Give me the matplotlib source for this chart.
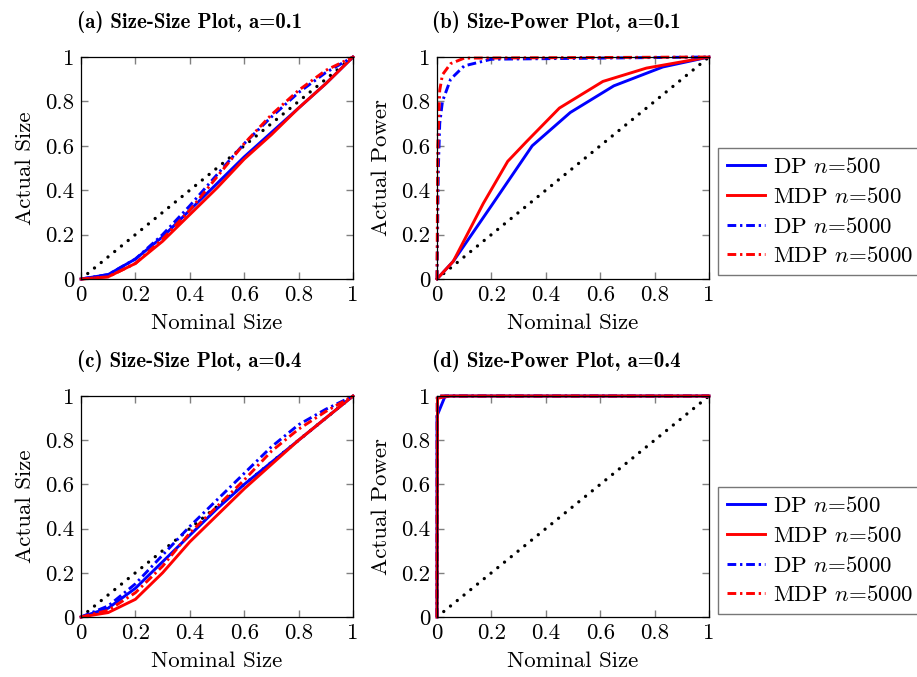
import numpy as np
import matplotlib
matplotlib.use("Agg")
import matplotlib.pyplot as plt

plt.rcParams['font.family'] = ['cmr10', 'DejaVu Serif']
plt.rcParams['mathtext.fontset'] = 'cm'
plt.rcParams['axes.formatter.use_mathtext'] = True

grid = [0, 0.1, 0.2, 0.3, 0.4, 0.5, 0.6, 0.7, 0.8, 0.9, 1]

# (a) size-size, a=0.1
a_dp500 = [0, 0.02, 0.09, 0.19, 0.31, 0.43, 0.55, 0.66, 0.77, 0.88, 1]
a_mdp500 = [0, 0.01, 0.07, 0.17, 0.29, 0.41, 0.54, 0.65, 0.77, 0.88, 1]
a_dp5000 = [0, 0.02, 0.09, 0.2, 0.33, 0.47, 0.61, 0.73, 0.84, 0.93, 1]
a_mdp5000 = [0, 0.01, 0.07, 0.18, 0.31, 0.46, 0.61, 0.74, 0.85, 0.94, 1]

# (b) size-power, a=0.1
b_dp500_x = [0, 0.06, 0.2, 0.35, 0.49, 0.65, 0.83, 1]
b_dp500_y = [0, 0.08, 0.33, 0.60, 0.75, 0.87, 0.955, 1]
b_mdp500_x = [0, 0.06, 0.17, 0.26, 0.33, 0.45, 0.61, 0.77, 1]
b_mdp500_y = [0, 0.08, 0.34, 0.53, 0.62, 0.77, 0.89, 0.95, 1]
b_dp5000_x = [0, 0.005, 0.01, 0.02, 0.05, 0.1, 0.2, 1]
b_dp5000_y = [0, 0.5, 0.7, 0.8, 0.9, 0.96, 0.99, 1]
b_mdp5000_x = [0, 0.003, 0.01, 0.02, 0.05, 0.1, 1]
b_mdp5000_y = [0, 0.6, 0.85, 0.92, 0.97, 0.995, 1]

# (c) size-size, a=0.4
c_dp500 = [0, 0.04, 0.13, 0.25, 0.37, 0.49, 0.6, 0.7, 0.8, 0.9, 1]
c_mdp500 = [0, 0.02, 0.08, 0.2, 0.34, 0.46, 0.58, 0.69, 0.8, 0.9, 1]
c_dp5000 = [0, 0.05, 0.15, 0.28, 0.41, 0.53, 0.65, 0.77, 0.87, 0.94, 1]
c_mdp5000 = [0, 0.03, 0.11, 0.23, 0.38, 0.5, 0.62, 0.75, 0.85, 0.93, 1]

# (d) size-power, a=0.4
d_dp500_x = [0, 0, 0.03, 1]
d_dp500_y = [0, 0.91, 1, 1]
d_mdp500_x = [0, 0.002, 0.05, 1]
d_mdp500_y = [0, 0.99, 1, 1]
d_dp5000_x = [0, 0.001, 1]
d_dp5000_y = [0, 1, 1]
d_mdp5000_x = [0, 0.001, 1]
d_mdp5000_y = [0, 1, 1]

labels = ['DP $n$=500', 'MDP $n$=500', 'DP $n$=5000', 'MDP $n$=5000']
colors = ['#0000ff', '#ff0000', '#0000ff', '#ff0000']
styles = ['-', '-', (0, (3, 1.3, 0.8, 1.3)), (0, (3, 1.3, 0.8, 1.3))]

fig = plt.figure(figsize=(9.17, 6.77), dpi=100)
W, H = 917, 677
FS = 16.5


def make_ax(x0, y0, x1, y1):
    return fig.add_axes([x0 / W, 1 - y1 / H, (x1 - x0) / W, (y1 - y0) / H])


def style_ax(ax, ylabel):
    ax.set_xlim(0, 1)
    ax.set_ylim(0, 1)
    ax.set_xticks(np.arange(0, 1.01, 0.2))
    ax.set_yticks(np.arange(0, 1.01, 0.2))
    ax.set_xticklabels(['0', '0.2', '0.4', '0.6', '0.8', '1'])
    ax.set_yticklabels(['0', '0.2', '0.4', '0.6', '0.8', '1'])
    ax.tick_params(direction='in', top=True, right=True, length=5, width=1,
                   color='#808080', labelsize=FS, pad=5)
    for s in ax.spines.values():
        s.set_linewidth(0.9)
    ax.set_xlabel('Nominal Size', fontsize=FS, labelpad=6)
    ax.set_ylabel(ylabel, fontsize=FS, labelpad=7)
    ax.plot([0, 1], [0, 1], color='black', lw=2.4,
            linestyle=(0, (0.01, 2.6)), dash_capstyle='round', zorder=1)


def draw(ax, xs, ys):
    lines = []
    for x, y, c, ls, lab in zip(xs, ys, colors, styles, labels):
        ln, = ax.plot(x, y, color=c, lw=2.1, linestyle=ls, label=lab,
                      clip_on=False, zorder=2)
        lines.append(ln)
    return lines


ax_a = make_ax(81, 57, 353, 279)
style_ax(ax_a, 'Actual Size')
draw(ax_a, [grid] * 4, [a_dp500, a_mdp500, a_dp5000, a_mdp5000])

ax_b = make_ax(437, 57, 709, 279)
style_ax(ax_b, 'Actual Power')
lines_b = draw(ax_b, [b_dp500_x, b_mdp500_x, b_dp5000_x, b_mdp5000_x],
               [b_dp500_y, b_mdp500_y, b_dp5000_y, b_mdp5000_y])

ax_c = make_ax(81, 396, 353, 617)
style_ax(ax_c, 'Actual Size')
draw(ax_c, [grid] * 4, [c_dp500, c_mdp500, c_dp5000, c_mdp5000])

ax_d = make_ax(437, 396, 709, 617)
style_ax(ax_d, 'Actual Power')
lines_d = draw(ax_d, [d_dp500_x, d_mdp500_x, d_dp5000_x, d_mdp5000_x],
               [d_dp500_y, d_mdp500_y, d_dp5000_y, d_mdp5000_y])

for lines, y_top in [(lines_b, 148), (lines_d, 487)]:
    leg = fig.legend(handles=lines, loc='upper left',
                     bbox_to_anchor=(718 / W, 1 - y_top / H),
                     fontsize=FS, frameon=True, fancybox=False,
                     edgecolor='#555555', handlelength=1.65, handletextpad=0.35,
                     labelspacing=0.42, borderpad=0.4, borderaxespad=0)
    leg.get_frame().set_linewidth(1.0)

titles = [('(a) Size-Size Plot, a=0.1', 77, 22),
          ('(b) Size-Power Plot, a=0.1', 432, 22),
          ('(c) Size-Size Plot, a=0.4', 77, 361),
          ('(d) Size-Power Plot, a=0.4', 432, 361)]
for txt, x, y in titles:
    fig.text(x / W, 1 - y / H, txt, fontsize=15, family='cmb10',
             ha='left', va='center')

fig.savefig('out.png', dpi=100)
